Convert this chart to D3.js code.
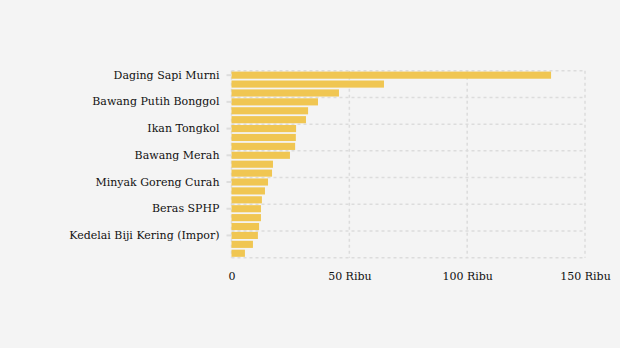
<!DOCTYPE html>
<html>
<head>
<meta charset="utf-8">
<script src="https://cdn.jsdelivr.net/npm/d3@7"></script>
<style>
  html, body { margin: 0; padding: 0; background: #f4f4f4; }
  svg { display: block; }
  text { font-family: "DejaVu Serif", serif; }
</style>
</head>
<body>
<div id="chart"></div>
<script>
// Harga rata-rata komoditas pangan (Rupiah per kg/liter)
const commodities = [
  "Daging Sapi Murni", "Cabai Rawit Merah", "Cabai Merah Keriting",
  "Bawang Putih Bonggol", "Daging Ayam Ras", "Ikan Kembung",
  "Ikan Tongkol", "Telur Ayam Ras", "Ikan Bandeng",
  "Bawang Merah", "Gula Konsumsi", "Minyak Goreng Kemasan Sederhana",
  "Minyak Goreng Curah", "Beras Premium", "Beras Medium",
  "Beras SPHP", "Tepung Terigu Kemasan", "Tepung Terigu (Curah)",
  "Kedelai Biji Kering (Impor)", "Garam Konsumsi", "Jagung Tk Peternak"
];
const prices = [
  135600, 64700, 45600,
  36700, 32500, 31600,
  27400, 27300, 27000,
  24800, 17600, 17200,
  15500, 14200, 12900,
  12500, 12500, 11700,
  11200, 9100, 5700
];
const labeledCommodities = [
  "Daging Sapi Murni", "Bawang Putih Bonggol", "Ikan Tongkol",
  "Bawang Merah", "Minyak Goreng Curah", "Beras SPHP",
  "Kedelai Biji Kering (Impor)"
];
const xTickValues = [0, 50000, 100000, 150000];
const xTickLabels = ["0", "50 Ribu", "100 Ribu", "150 Ribu"];

const width = 620, height = 348;
const margin = { top: 70.7, right: 35, bottom: 90.3, left: 231.5 };
const innerW = width - margin.left - margin.right;
const innerH = height - margin.top - margin.bottom;

const svg = d3.select("#chart").append("svg")
  .attr("width", width).attr("height", height);

const g = svg.append("g")
  .attr("transform", `translate(${margin.left},${margin.top})`);

const x = d3.scaleLinear().domain([0, 150000]).range([0, innerW]);
const y = d3.scaleBand().domain(commodities).range([0, innerH])
  .paddingInner(0.2).paddingOuter(0.1);

const gridColor = "#dcdcdc";

// vertical grid lines
g.append("g").selectAll("line").data(xTickValues).join("line")
  .attr("x1", d => x(d)).attr("x2", d => x(d))
  .attr("y1", 0).attr("y2", innerH)
  .attr("stroke", gridColor).attr("stroke-width", 1.5)
  .attr("stroke-dasharray", "3,3");

// horizontal grid lines at the start of each labelled band, plus the bottom
const hGrid = labeledCommodities.map(c => y(c) - y.step() * y.paddingOuter()).concat([innerH]);
g.append("g").selectAll("line").data(hGrid).join("line")
  .attr("x1", 0).attr("x2", innerW)
  .attr("y1", d => d).attr("y2", d => d)
  .attr("stroke", gridColor).attr("stroke-width", 1.5)
  .attr("stroke-dasharray", "3,3");

// bars
g.append("g").selectAll("rect").data(commodities).join("rect")
  .attr("x", 0)
  .attr("y", d => y(d))
  .attr("width", (d, i) => x(prices[i]))
  .attr("height", y.bandwidth())
  .attr("fill", "#f0c652");

// y axis: every third commodity is labelled
const yAxis = d3.axisLeft(y).tickValues(labeledCommodities).tickSize(5).tickPadding(7);
const yg = g.append("g").call(yAxis);
yg.select(".domain").remove();
yg.selectAll(".tick line").attr("stroke", "#dddddd").attr("stroke-width", 2);
yg.selectAll(".tick text").attr("font-size", 11).attr("fill", "#111")
  .attr("font-family", "DejaVu Serif, serif");

// x axis
const xAxis = d3.axisBottom(x).tickValues(xTickValues)
  .tickFormat((d, i) => xTickLabels[i]).tickSize(0).tickPadding(15);
const xg = g.append("g").attr("transform", `translate(0,${innerH})`).call(xAxis);
xg.select(".domain").remove();
xg.selectAll(".tick text").attr("font-size", 11).attr("fill", "#111")
  .attr("font-family", "DejaVu Serif, serif");
</script>
</body>
</html>
